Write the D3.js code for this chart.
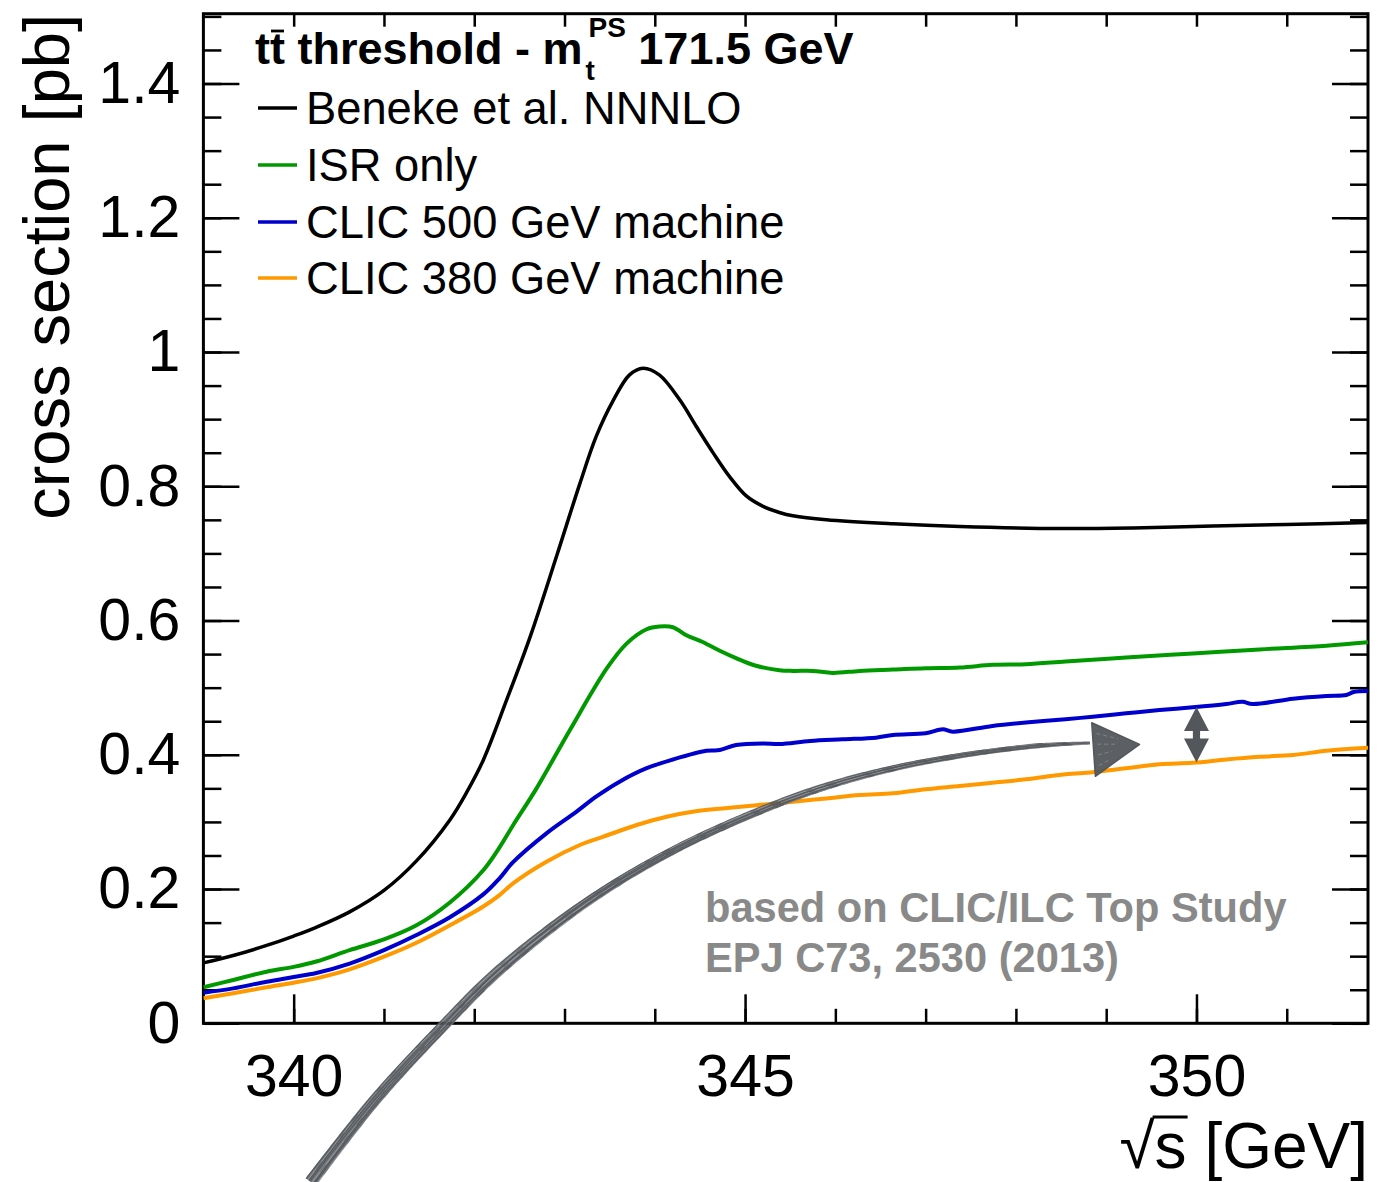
<!DOCTYPE html>
<html>
<head>
<meta charset="utf-8">
<script src="https://cdn.jsdelivr.net/npm/d3@7"></script>
<style>
  body { margin: 0; background: #fff; }
  svg { display: block; }
  text { font-family: "Liberation Sans", Arial, Helvetica, sans-serif; }
</style>
</head>
<body>
<svg id="chart" width="1394" height="1182"></svg>
<script>
// ---- data: ttbar threshold scan, cross section [pb] vs sqrt(s) [GeV] ----
const nnnloE  = [339.0,339.33,339.7,340.0,340.25,340.62,341.0,341.36,341.73,341.92,342.1,342.36,342.62,342.91,343.17,343.35,343.54,343.72,343.87,344.05,344.28,344.46,344.65,344.83,345.01,345.2,345.38,345.53,345.9,346.64,347.38,348.5,349.3,350.18,351.0,351.9];
const nnnloXs = [0.090,0.101,0.116,0.130,0.143,0.166,0.198,0.242,0.303,0.345,0.392,0.482,0.576,0.695,0.804,0.874,0.928,0.966,0.976,0.966,0.928,0.889,0.849,0.814,0.786,0.770,0.761,0.756,0.750,0.744,0.740,0.737,0.738,0.741,0.743,0.746];

const isrE  = [339.0,339.33,339.7,340.0,340.25,340.62,341.0,341.36,341.73,342.1,342.28,342.43,342.69,343.06,343.47,343.69,343.91,344.05,344.2,344.35,344.53,344.72,344.9,345.11,345.38,345.53,345.75,345.97,346.27,346.64,347.0,347.38,347.74,348.11,348.55,349.22,349.96,350.7,351.44,351.9];
const isrXs = [0.0536,0.0645,0.0769,0.084,0.092,0.109,0.125,0.146,0.180,0.228,0.262,0.295,0.350,0.437,0.529,0.566,0.587,0.591,0.590,0.578,0.568,0.555,0.544,0.533,0.526,0.525,0.525,0.522,0.525,0.527,0.529,0.530,0.534,0.535,0.539,0.545,0.551,0.557,0.5625,0.5676];

const clic500E  = [339.0,339.33,339.7,340.0,340.25,340.62,341.0,341.36,341.73,342.1,342.28,342.43,342.8,343.13,343.35,343.61,343.91,344.2,344.57,344.72,344.9,345.2,345.38,345.72,346.08,346.45,346.64,347.0,347.19,347.3,347.74,348.11,348.55,348.85,349.22,349.59,349.96,350.33,350.51,350.62,351.07,351.44,351.66,351.74,351.9];
const clic500Xs = [0.0456,0.052,0.062,0.069,0.075,0.089,0.109,0.1315,0.158,0.192,0.216,0.240,0.283,0.315,0.3376,0.360,0.380,0.393,0.406,0.407,0.4146,0.417,0.416,0.4205,0.423,0.4255,0.4295,0.432,0.438,0.4345,0.443,0.448,0.453,0.4567,0.4618,0.4667,0.4707,0.4756,0.479,0.4756,0.4836,0.4876,0.489,0.4935,0.495];

const clic380E  = [339.0,339.33,339.7,340.0,340.25,340.62,341.0,341.36,341.73,342.1,342.28,342.43,342.8,343.17,343.43,343.8,344.13,344.42,344.83,345.13,345.38,345.53,345.9,346.27,346.64,347.0,347.38,347.74,348.11,348.55,348.85,349.22,349.59,349.96,350.33,350.7,351.07,351.44,351.9];
const clic380Xs = [0.0372,0.0447,0.0536,0.0605,0.067,0.0804,0.0992,0.120,0.146,0.174,0.191,0.2085,0.2407,0.2656,0.278,0.2954,0.3078,0.3152,0.321,0.325,0.328,0.330,0.335,0.340,0.3426,0.3486,0.3535,0.3584,0.3635,0.371,0.374,0.380,0.3858,0.388,0.393,0.397,0.3997,0.406,0.4105];

const seriesNames  = ["Beneke et al. NNNLO", "ISR only", "CLIC 500 GeV machine", "CLIC 380 GeV machine"];
const seriesColors = ["#000000", "#009900", "#0000cc", "#ff9900"];

// axes
const xMajor = [340, 345, 350];
const xTickLabels = ["340", "345", "350"];
const yMajor = [0, 0.2, 0.4, 0.6, 0.8, 1.0, 1.2, 1.4];
const yTickLabels = ["0", "0.2", "0.4", "0.6", "0.8", "1", "1.2", "1.4"];

// hand-drawn highlight arrow (sqrt(s) [GeV], pb) and the energy of the gap marker
const arrowE  = [340.19, 340.90, 341.687, 342.285, 343.282, 344.279, 345.386, 346.03, 346.73, 347.436, 348.145, 348.5, 348.82];
const arrowXs = [-0.2364, -0.1143, 0.0, 0.0794, 0.1837, 0.2626, 0.3282, 0.358, 0.3822, 0.3997, 0.412, 0.4156, 0.4175];
const arrowHeadE  = [348.84, 348.88, 349.37];
const arrowHeadXs = [0.4478, 0.368, 0.4156];
const gapMarkerE = 350.0;

// ---- layout ----
const svg = d3.select("#chart");
const plot = { left: 203.4, right: 1368, top: 13.7, bottom: 1023.3 };
const x = d3.scaleLinear().domain([339, 351.9]).range([plot.left, plot.right]);
const y = d3.scaleLinear().domain([0, 1.504]).range([plot.bottom, plot.top]);

svg.append("defs").append("clipPath").attr("id", "plotclip")
  .append("rect").attr("x", plot.left).attr("y", plot.top)
  .attr("width", plot.right - plot.left).attr("height", plot.bottom - plot.top);

const tickFont = 59;

// minor + major ticks on all four sides, pointing inwards
const xMinor = d3.range(340, 352, 1);
const yMinor = d3.range(0, 1.5001, 0.05);

function styleAxis(g) {
  g.select(".domain").remove();
  g.selectAll(".tick line").attr("stroke", "#000").attr("stroke-width", 2.5);
}

svg.append("g").attr("transform", `translate(0,${plot.bottom})`)
  .call(d3.axisBottom(x).tickValues(xMinor).tickSize(-14.5).tickFormat(""))
  .call(styleAxis);
svg.append("g").attr("transform", `translate(0,${plot.bottom})`)
  .call(d3.axisBottom(x).tickValues(xMajor).tickSize(-29).tickPadding(31)
        .tickFormat((d, i) => xTickLabels[i]))
  .call(styleAxis)
  .call(g => g.selectAll(".tick text").attr("font-size", tickFont).attr("fill", "#000")
        .attr("font-family", "Liberation Sans, Arial, sans-serif"));
svg.append("g").attr("transform", `translate(0,${plot.top})`)
  .call(d3.axisTop(x).tickValues(xMinor).tickSize(-13).tickFormat(""))
  .call(styleAxis);

svg.append("g").attr("transform", `translate(${plot.left},0)`)
  .call(d3.axisLeft(y).tickValues(yMinor).tickSize(-18).tickFormat(""))
  .call(styleAxis);
svg.append("g").attr("transform", `translate(${plot.left},0)`)
  .call(d3.axisLeft(y).tickValues(yMajor).tickSize(-36).tickPadding(23)
        .tickFormat((d, i) => yTickLabels[i]))
  .call(styleAxis)
  .call(g => g.selectAll(".tick text").attr("font-size", tickFont).attr("fill", "#000")
        .attr("font-family", "Liberation Sans, Arial, sans-serif"));
svg.append("g").attr("transform", `translate(${plot.right},0)`)
  .call(d3.axisRight(y).tickValues(yMinor).tickSize(-18).tickFormat(""))
  .call(styleAxis);
svg.append("g").attr("transform", `translate(${plot.right},0)`)
  .call(d3.axisRight(y).tickValues(yMajor).tickSize(-36).tickFormat(""))
  .call(styleAxis);

// frame
svg.append("rect").attr("x", plot.left).attr("y", plot.top)
  .attr("width", plot.right - plot.left).attr("height", plot.bottom - plot.top)
  .attr("fill", "none").attr("stroke", "#000").attr("stroke-width", 3);

// ---- curves ----
const curves = svg.append("g").attr("clip-path", "url(#plotclip)");
const smooth = d3.line().x(d => x(d[0])).y(d => y(d[1])).curve(d3.curveCatmullRom.alpha(0.5));

[[clic380E, clic380Xs, 3], [clic500E, clic500Xs, 2], [isrE, isrXs, 1]].forEach(([E, V, k]) => {
  curves.append("path").datum(d3.zip(E, V)).attr("d", smooth)
    .attr("fill", "none").attr("stroke", seriesColors[k]).attr("stroke-width", 4).attr("stroke-linejoin", "round");
});
curves.append("path").datum(d3.zip(nnnloE, nnnloXs)).attr("d", smooth)
  .attr("fill", "none").attr("stroke", seriesColors[0]).attr("stroke-width", 3.5);

// ---- sketched arrow ----
const ink = "#53575c";
const arrowG = svg.append("g");
const guide = arrowG.append("path")
  .attr("d", d3.line().x(d => x(d[0])).y(d => y(d[1])).curve(d3.curveCatmullRom.alpha(0.5))(d3.zip(arrowE, arrowXs)))
  .attr("fill", "none").attr("stroke", "none");
const gn = guide.node();
const total = gn.getTotalLength();
const N = 320;
const pts = d3.range(N + 1).map(i => gn.getPointAtLength(total * i / N));
const normals = pts.map((p, i) => {
  const a = pts[Math.max(0, i - 1)], b = pts[Math.min(N, i + 1)];
  const dx = b.x - a.x, dy = b.y - a.y, l = Math.hypot(dx, dy) || 1;
  return [-dy / l, dx / l];
});
const halfW = t => (t < 0.95 ? 6.4 - 4.3 * t : 2.1 - 1.1 * (t - 0.95) / 0.05);
const body = [];
pts.forEach((p, i) => { const w = halfW(i / N); body.push([p.x + normals[i][0] * w, p.y + normals[i][1] * w]); });
for (let i = N; i >= 0; i--) { const p = pts[i], w = halfW(i / N); body.push([p.x - normals[i][0] * w, p.y - normals[i][1] * w]); }
arrowG.append("path").attr("d", d3.line()(body) + "Z").attr("fill", ink).attr("fill-opacity", 0.8);

// pencil strands along the body
const strands = [-0.9, -0.65, -0.35, -0.1, 0.15, 0.4, 0.7, 0.95];
strands.forEach((f, k) => {
  const line = pts.map((p, i) => {
    const t = i / N, w = halfW(t);
    const off = w * (f + 0.1 * Math.sin(i * 0.05 + k * 1.7));
    return [p.x + normals[i][0] * off, p.y + normals[i][1] * off];
  });
  const light = k % 3 === 1;
  arrowG.append("path").attr("d", d3.line()(line)).attr("fill", "none")
    .attr("stroke", light ? "#ffffff" : ink).attr("stroke-opacity", light ? 0.3 : 0.85)
    .attr("stroke-width", light ? 0.9 : 1.3)
    .attr("stroke-dasharray", light ? "14 9 30 6" : null);
});

// arrow head
const head = d3.zip(arrowHeadE, arrowHeadXs).map(d => [x(d[0]), y(d[1])]);
arrowG.append("path").attr("d", d3.line()(head) + "Z").attr("fill", ink).attr("fill-opacity", 0.95)
  .attr("stroke", ink).attr("stroke-width", 1.5).attr("stroke-linejoin", "round");
[0.2, 0.4, 0.6, 0.8].forEach((f, k) => {
  const a = head[0], b = head[1], c = head[2];
  const p0 = [a[0] + (b[0] - a[0]) * f + 4, a[1] + (b[1] - a[1]) * f];
  const p1 = [p0[0] + (c[0] - p0[0]) * (0.5 - 0.08 * k), p0[1] + (c[1] - p0[1]) * (0.5 - 0.08 * k)];
  arrowG.append("path").attr("d", d3.line()([p0, p1])).attr("stroke", "#fff").attr("stroke-opacity", 0.22)
    .attr("stroke-width", 1).attr("stroke-dasharray", "4 3");
});

// double-headed marker between the two CLIC spectra
const interp = (E, V, e) => { const i = d3.bisectLeft(E, e); const t = (e - E[i - 1]) / (E[i] - E[i - 1]); return V[i - 1] + t * (V[i] - V[i - 1]); };
const mx = x(gapMarkerE);
const yTop = y(interp(clic500E, clic500Xs, gapMarkerE));
const yBot = y(interp(clic380E, clic380Xs, gapMarkerE));
const hw = 12.5, hh = 24, bw = 3.6;
arrowG.append("path").attr("fill", ink).attr("d",
  d3.line()([[mx, yTop], [mx + hw, yTop + hh], [mx + bw, yTop + hh], [mx + bw, yBot - hh], [mx + hw, yBot - hh],
             [mx, yBot], [mx - hw, yBot - hh], [mx - bw, yBot - hh], [mx - bw, yTop + hh], [mx - hw, yTop + hh]]) + "Z");

// ---- axis titles ----
svg.append("text").attr("transform", "translate(69,14) rotate(-90)")
  .attr("text-anchor", "end").attr("font-size", 65).text("cross section [pb]");

const xt = svg.append("text").attr("x", 1368).attr("y", 1168).attr("text-anchor", "end")
  .attr("font-size", 64).text("√s [GeV]");
{
  const n = xt.node();
  const s1 = n.getEndPositionOfChar(0), s2 = n.getEndPositionOfChar(1);
  svg.append("line").attr("x1", s1.x - 2).attr("x2", s2.x + 1).attr("y1", 1168 - 51).attr("y2", 1168 - 51)
    .attr("stroke", "#000").attr("stroke-width", 3);
}

// ---- title ----
const tx = 255, ty = 64, tSize = 45;
const t1 = svg.append("text").attr("x", tx).attr("y", ty).attr("font-size", tSize).attr("font-weight", "bold")
  .text("tt threshold - m");
const t1n = t1.node();
{
  const a = t1n.getStartPositionOfChar(1), b = t1n.getEndPositionOfChar(1);
  svg.append("line").attr("x1", a.x + 1).attr("x2", b.x - 1).attr("y1", ty - 33).attr("y2", ty - 33)
    .attr("stroke", "#000").attr("stroke-width", 2.8);
}
const afterM = tx + t1n.getComputedTextLength() + 3;
const sub = svg.append("text").attr("x", afterM).attr("y", ty + 16).attr("font-size", 28).attr("font-weight", "bold").text("t");
const sup = svg.append("text").attr("x", afterM + 3).attr("y", ty - 27).attr("font-size", 28).attr("font-weight", "bold").text("PS");
const afterScripts = afterM + 3 + Math.max(sub.node().getComputedTextLength(), sup.node().getComputedTextLength());
svg.append("text").attr("x", afterScripts).attr("y", ty).attr("font-size", tSize).attr("font-weight", "bold")
  .attr("xml:space", "preserve").style("white-space", "pre").text(" 171.5 GeV");

// ---- legend ----
const legendRows = [108, 165, 222, 278];
const legend = svg.append("g");
seriesNames.forEach((name, i) => {
  legend.append("line").attr("x1", 258).attr("x2", 297).attr("y1", legendRows[i]).attr("y2", legendRows[i])
    .attr("stroke", seriesColors[i]).attr("stroke-width", 3.5);
  legend.append("text").attr("x", 306).attr("y", legendRows[i] + 16).attr("font-size", 45.3).text(name);
});

// ---- reference note ----
const note = svg.append("g").attr("fill", "#898989").attr("font-weight", "bold").attr("font-size", 41.6);
note.append("text").attr("x", 705).attr("y", 922).text("based on CLIC/ILC Top Study");
note.append("text").attr("x", 705).attr("y", 972).text("EPJ C73, 2530 (2013)");
</script>
</body>
</html>
